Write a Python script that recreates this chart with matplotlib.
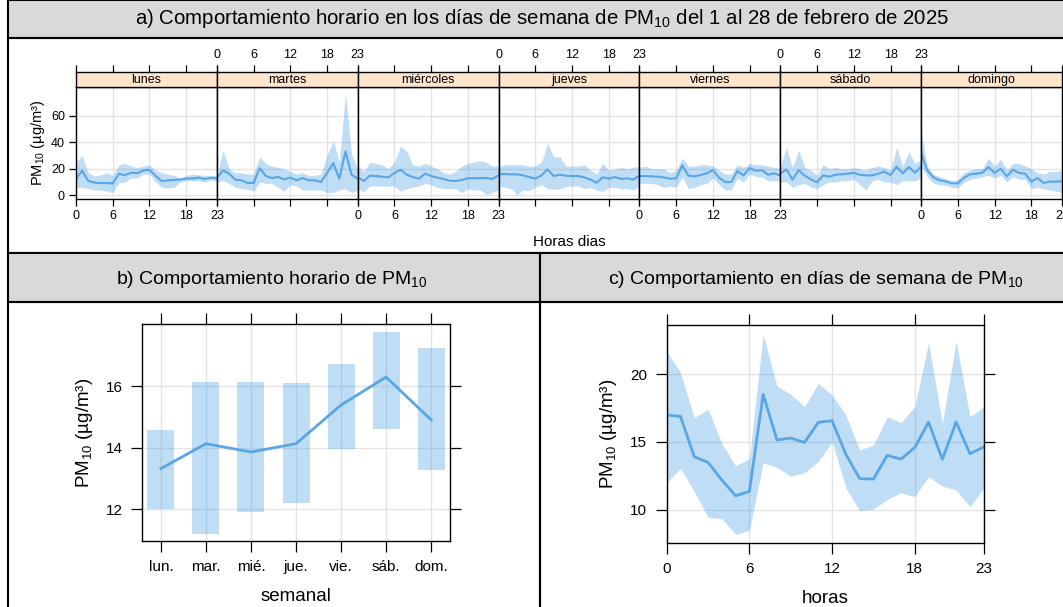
import matplotlib
matplotlib.use("Agg")
import matplotlib.pyplot as plt
from matplotlib.patches import Rectangle

plt.rcParams['font.family'] = ['Liberation Sans', 'DejaVu Sans']
plt.rcParams['mathtext.fontset'] = 'custom'
plt.rcParams['mathtext.rm'] = 'Liberation Sans'

# ---- datos ----
dias = ['lunes', 'martes', 'miércoles', 'jueves', 'viernes', 'sábado', 'domingo']
dias_corto = ['lun.', 'mar.', 'mié.', 'jue.', 'vie.', 'sáb.', 'dom.']
horas = list(range(24))

# panel a: media y banda por dia (24 horas cada una)
media_dia_hora = [
    [12.5, 18.5, 10.8, 9.6, 9.2, 9.2, 8.9, 16.2, 15.2, 17.0, 16.6, 18.7, 19.2, 14.7, 10.7, 11.2, 11.6, 11.8, 12.6, 12.6, 13.4, 12.2, 13.2, 12.9],
    [13.0, 18.8, 16.3, 11.8, 11.3, 9.3, 9.3, 20.5, 14.5, 13.0, 13.8, 12.0, 13.3, 11.3, 13.0, 11.3, 11.3, 10.0, 16.8, 24.3, 12.5, 33.0, 15.5, 12.5],
    [13.5, 10.8, 14.8, 14.5, 14.0, 13.5, 16.8, 19.3, 15.5, 13.8, 12.5, 16.3, 14.5, 13.3, 12.3, 11.0, 10.8, 11.5, 12.8, 12.8, 13.0, 13.0, 12.3, 15.0],
    [16.0, 16.0, 15.8, 15.8, 15.0, 13.8, 12.5, 15.0, 19.5, 14.5, 15.5, 14.8, 14.5, 14.5, 13.5, 11.8, 9.5, 13.5, 12.5, 13.8, 12.3, 12.8, 11.8, 14.8],
    [14.5, 14.5, 14.3, 14.0, 13.5, 12.5, 12.8, 22.5, 14.8, 14.3, 15.3, 16.5, 19.0, 13.3, 10.0, 10.0, 18.3, 15.0, 20.5, 18.5, 19.0, 15.5, 16.5, 15.0],
    [16.3, 19.5, 11.8, 19.0, 14.8, 12.0, 9.8, 15.0, 14.0, 15.5, 15.8, 16.3, 16.8, 15.5, 15.0, 15.0, 16.3, 17.8, 15.3, 21.5, 16.5, 21.3, 17.0, 21.5],
    [32.0, 18.8, 13.5, 11.3, 10.5, 9.0, 9.0, 13.3, 15.8, 16.3, 17.0, 21.3, 16.8, 20.0, 14.3, 19.3, 16.8, 16.3, 10.3, 13.0, 9.3, 10.3, 10.3, 10.5],
]
inf_dia_hora = [
    [6, 6, 5, 4, 4, 3, 2, 9.5, 10, 13, 13, 16, 16, 10, 6, 5.5, 6, 10, 11, 11, 11, 10, 11.5, 11],
    [10, 11, 9, 6, 5, 4.5, 3, 10, 9, 9, 6, 3, 8, 7, 4, 4, 4, 4, 2, 2, 4, 5, 2, 4],
    [5, 3, 7, 7, 7, 7, 7, 3, 5, 6, 7, 9, 8, 6, 5, 5, 5, 2, 5, 4, 4, 0.5, 2, 4],
    [7, 6, 5, 0.5, 4, 3.5, 6, 8, 5, 4.5, 5, 6.5, 7, 7, 5, 6, 4, 3, 6, 6, 5, 5, 4, 7],
    [9, 9, 9, 8, 6, 7, 6, 14, 5, 6, 8, 9, 13, 8, 4, 4, 13, 10, 16, 14, 14, 11, 11, 11],
    [10, 10, 6, 8, 9, 6, 5, 8, 10, 10, 11, 11, 12, 8, 4, 11, 12, 10, 10, 8, 11, 11, 11, 13],
    [22, 14, 9, 8, 7.5, 6, 5.5, 10, 12, 13, 14, 15, 13, 15, 10, 14, 12, 12, 5, 6, 5, 4, 3, 2],
]
sup_dia_hora = [
    [25, 30, 17, 14.5, 15.5, 17, 15, 23, 24, 22, 21, 22, 23, 19, 17, 16, 15, 13, 15, 16, 15.5, 15, 15, 15],
    [15, 34, 20, 17, 17, 16, 16, 29, 24, 22, 21, 20, 18, 16, 17, 15, 15, 16, 30, 41, 25, 77, 31, 20],
    [22, 18, 25, 24, 23, 20, 25, 37, 33, 23, 22, 24, 22, 20, 17, 16, 18, 22, 24, 25, 26, 25, 22, 22],
    [22, 23, 23, 23, 23, 22, 22, 25, 39, 29, 29, 22, 22, 22, 23, 19, 16, 24, 19, 20, 21, 20, 21, 22],
    [21, 22, 20, 20, 20, 17, 19, 28, 22, 22, 23, 23, 22, 19, 16, 16, 23, 21, 24, 23, 23, 22, 21, 20],
    [22, 36, 21, 34, 21, 19, 15, 23, 20, 21, 20, 20, 21, 20, 19, 21, 22, 21, 19, 36, 22, 33, 24, 27],
    [48, 22, 16, 14, 12.5, 11, 12, 17, 19, 20, 20, 28, 22, 27, 19, 24, 24, 22, 20, 17, 16, 18, 18, 19],
]

# panel b: media por dia de semana
media_semana = [13.32, 14.13, 13.86, 14.13, 15.39, 16.30, 14.91]
inf_semana = [12.00, 11.18, 11.91, 12.21, 13.97, 14.62, 13.28]
sup_semana = [14.58, 16.14, 16.14, 16.11, 16.74, 17.77, 17.25]

# panel c: media por hora
media_hora = [16.98, 16.88, 13.90, 13.49, 12.19, 11.03, 11.35, 18.50, 15.14, 15.28, 14.96, 16.44,
              16.56, 14.08, 12.29, 12.26, 14.00, 13.73, 14.59, 16.46, 13.71, 16.46, 14.13, 14.62]
inf_hora = [11.99, 13.05, 11.33, 9.43, 9.34, 8.18, 8.50, 13.46, 13.12, 12.48, 12.73, 13.56,
            15.01, 11.62, 9.93, 10.05, 10.76, 11.25, 10.96, 12.43, 11.74, 11.45, 10.22, 11.57]
sup_hora = [21.70, 20.10, 16.78, 17.40, 14.89, 13.24, 13.76, 22.92, 19.12, 18.50, 17.59, 19.31,
            18.45, 16.98, 14.40, 14.77, 16.86, 16.41, 17.59, 22.31, 16.36, 22.41, 16.86, 17.59]

W, H = 1063, 607
col_linea = '#58A6E6'
col_grid = '#e3e3e3'
ylab = 'PM$\\mathregular{_{10}}$ (µg/m³)'

fig = plt.figure(figsize=(W / 100, H / 100), dpi=100)


def caja(x, y, w, h):
    return [x / W, 1 - (y + h) / H, w / W, h / H]


def rect(x, y, w, h, fc='none', lw=1.5):
    fig.patches.append(Rectangle((x / W, 1 - (y + h) / H), w / W, h / H, transform=fig.transFigure,
                                 facecolor=fc, edgecolor='black', linewidth=lw, zorder=0))


def estilo(ax):
    ax.tick_params(direction='out', length=5, width=0.9, colors='black')
    for s in ax.spines.values():
        s.set_linewidth(1.0)


# marcos y franjas de titulo
rect(8, 0, 1060, 38, fc='#d9d9d9')
rect(8, 38, 1060, 215)
rect(8, 253, 532, 49, fc='#d9d9d9')
rect(540, 253, 528, 49, fc='#d9d9d9')
rect(8, 302, 532, 310)
rect(540, 302, 528, 310)

fig.text(542 / W, 1 - 19 / H, 'a) Comportamiento horario en los días de semana de PM$\\mathregular{_{10}}$ del 1 al 28 de febrero de 2025',
         ha='center', va='center', fontsize=14.7)
fig.text(272 / W, 1 - 280 / H, 'b) Comportamiento horario de PM$\\mathregular{_{10}}$', ha='center', va='center', fontsize=14)
fig.text(816 / W, 1 - 280 / H, 'c) Comportamiento en días de semana de PM$\\mathregular{_{10}}$', ha='center', va='center', fontsize=14)

# ---- panel a ----
x0, pw = 76, 986 / 7
ticks_h = [0, 6, 12, 18, 23]
for i, dia in enumerate(dias):
    ax = fig.add_axes(caja(x0 + i * pw, 87.3, pw, 111.7))
    ax.fill_between(horas, inf_dia_hora[i], sup_dia_hora[i], color=col_linea, alpha=0.38, lw=0)
    ax.plot(horas, media_dia_hora[i], color=col_linea, lw=1.5)
    ax.set_xlim(0, 23)
    ax.set_ylim(-2.8, 81.4)
    ax.set_xticks(ticks_h)
    ax.set_yticks([0, 20, 40, 60])
    ax.grid(True, color=col_grid, lw=1)
    ax.set_axisbelow(True)
    estilo(ax)
    ax.tick_params(labelsize=9, pad=3)
    ax.tick_params(axis='x', labelbottom=(i % 2 == 0))
    if i == 0:
        ax.set_ylabel(ylab, fontsize=10.5, labelpad=3)
    else:
        ax.tick_params(axis='y', left=False, labelleft=False)
    if i == 6:
        ax.tick_params(axis='y', right=True)
    # franja del dia
    st = fig.add_axes(caja(x0 + i * pw, 71.7, pw, 15.6))
    st.set_facecolor('#ffe5cc')
    st.set_xlim(0, 23)
    st.set_ylim(0, 1)
    st.set_yticks([])
    st.set_xticks(ticks_h)
    estilo(st)
    st.tick_params(axis='x', bottom=False, labelbottom=False, top=True, labeltop=(i % 2 == 1),
                   labelsize=9, pad=3)
    st.text(11.5, 0.45, dia, ha='center', va='center', fontsize=9)

fig.text(569 / W, 1 - 242 / H, 'Horas dias', ha='center', va='center', fontsize=11)

# ---- panel b ----
axb = fig.add_axes(caja(142.3, 324.3, 307.7, 216.4))
pos = list(range(1, 8))
alturas = [s - l for s, l in zip(sup_semana, inf_semana)]
axb.bar(pos, alturas, bottom=inf_semana, width=0.6, color=col_linea, alpha=0.38, lw=0)
axb.plot(pos, media_semana, color=col_linea, lw=2)
axb.set_xlim(0.586, 7.42)
axb.set_ylim(10.97, 18.02)
axb.set_xticks(pos)
axb.set_xticklabels(dias_corto)
axb.set_yticks([12, 14, 16])
axb.grid(True, color=col_grid, lw=1)
axb.set_axisbelow(True)
estilo(axb)
axb.tick_params(labelsize=11, top=True, right=True, length=8, pad=6)
axb.set_xlabel('semanal', fontsize=13.5, labelpad=10)
axb.set_ylabel(ylab, fontsize=13.5, labelpad=8)

# ---- panel c ----
axc = fig.add_axes(caja(666.7, 325.3, 317, 217.4))
axc.fill_between(horas, inf_hora, sup_hora, color=col_linea, alpha=0.38, lw=0)
axc.plot(horas, media_hora, color=col_linea, lw=2)
axc.set_xlim(0, 23)
axc.set_ylim(7.57, 23.59)
axc.set_xticks(ticks_h)
axc.set_yticks([10, 15, 20])
axc.grid(True, color=col_grid, lw=1)
axc.set_axisbelow(True)
estilo(axc)
axc.tick_params(labelsize=11, top=True, right=True, length=8, pad=6)
axc.set_xlabel('horas', fontsize=13.5, labelpad=10)
axc.set_ylabel(ylab, fontsize=13.5, labelpad=8)

fig.savefig('out.png', dpi=100)
